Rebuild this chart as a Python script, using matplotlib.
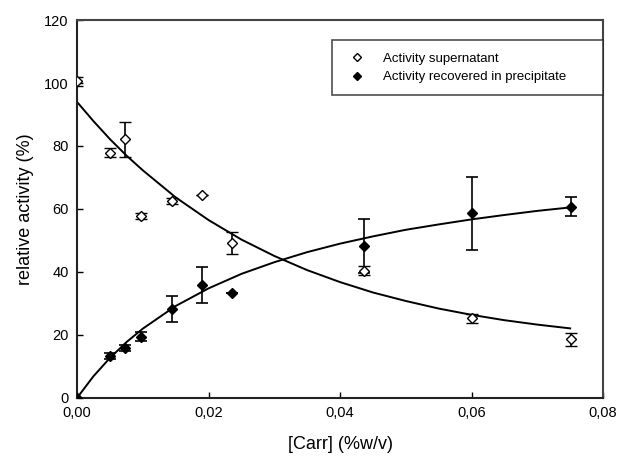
import numpy as np
import matplotlib
matplotlib.use('Agg')
import matplotlib.pyplot as plt

plt.rcParams['font.family'] = ['Liberation Sans', 'DejaVu Sans']

conc = [0.0, 0.005, 0.0073, 0.0097, 0.0145, 0.019, 0.0235, 0.0437, 0.06, 0.0752]
sup = [100.5, 77.9, 82.1, 57.8, 62.6, 64.5, 49.1, 40.4, 25.3, 18.6]
sup_err = [1.5, 1.5, 5.5, 1.0, 1.0, 0.0, 3.5, 1.5, 1.5, 2.0]
prec = [0.0, 13.3, 15.9, 19.5, 28.2, 35.9, 33.4, 48.3, 58.6, 60.7]
prec_err = [0.0, 1.0, 1.0, 1.5, 4.2, 5.8, 0.0, 8.5, 11.7, 3.0]

# fitted curves
fit_x = [0.0, 0.0025, 0.005, 0.0075, 0.01, 0.015, 0.02, 0.025, 0.03, 0.035,
         0.04, 0.045, 0.05, 0.055, 0.06, 0.065, 0.07, 0.075]
fit_sup = [94.0, 87.9, 82.2, 77.0, 72.3, 63.7, 56.5, 50.3, 45.1, 40.6,
           36.8, 33.5, 30.8, 28.4, 26.4, 24.7, 23.3, 22.1]
fit_prec = [0.0, 6.9, 12.7, 17.7, 22.0, 29.2, 34.8, 39.4, 43.1, 46.3,
            49.0, 51.3, 53.4, 55.1, 56.7, 58.1, 59.4, 60.5]

xticks = [0.0, 0.02, 0.04, 0.06, 0.08]
xticklabels = ['0,00', '0,02', '0,04', '0,06', '0,08']
yticks = [0, 20, 40, 60, 80, 100, 120]

fig = plt.figure(figsize=(6.22, 4.63), dpi=100)
ax = fig.add_axes([0.1238, 0.1404, 0.8457, 0.8164])

ax.plot(fit_x, fit_sup, color='black', lw=1.4, zorder=2)
ax.plot(fit_x, fit_prec, color='black', lw=1.4, zorder=2)

ax.errorbar(conc, sup, yerr=sup_err, fmt='D', ms=5.5, mfc='white', mec='black',
            mew=1.0, ecolor='black', elinewidth=1.2, capsize=4, capthick=1.2,
            zorder=3, label='Activity supernatant')
ax.errorbar(conc, prec, yerr=prec_err, fmt='D', ms=5.5, mfc='black', mec='black',
            ecolor='black', elinewidth=1.2, capsize=4, capthick=1.2,
            zorder=3, label='Activity recovered in precipitate')

ax.set_xlim(0, 0.08)
ax.set_ylim(0, 120)
ax.set_xticks(xticks)
ax.set_xticklabels(xticklabels)
ax.set_yticks(yticks)
ax.tick_params(direction='in', length=4, width=1, labelsize=10.5, pad=6)

for side in ['left', 'bottom']:
    ax.spines[side].set_linewidth(1.5)
    ax.spines[side].set_color('#222222')
for side in ['top', 'right']:
    ax.spines[side].set_linewidth(1.5)
    ax.spines[side].set_color('#444444')

ax.set_xlabel('[Carr] (%w/v)', fontsize=13, labelpad=11)
ax.set_ylabel('relative activity (%)', fontsize=13, labelpad=7)

handles, labels = ax.get_legend_handles_labels()
handles = [h[0] for h in handles]
leg = ax.legend(handles, labels, loc='upper left',
                bbox_to_anchor=(0.484, 0.946, 0.516, 0.0), mode='expand',
                fontsize=9.5, frameon=True, fancybox=False, markerscale=0.8,
                handlelength=2.0, handletextpad=1.0, borderpad=0.9,
                labelspacing=0.5, borderaxespad=0)
leg.get_frame().set_edgecolor('#222222')
leg.get_frame().set_linewidth(1.2)

fig.savefig('out.png', dpi=100)
